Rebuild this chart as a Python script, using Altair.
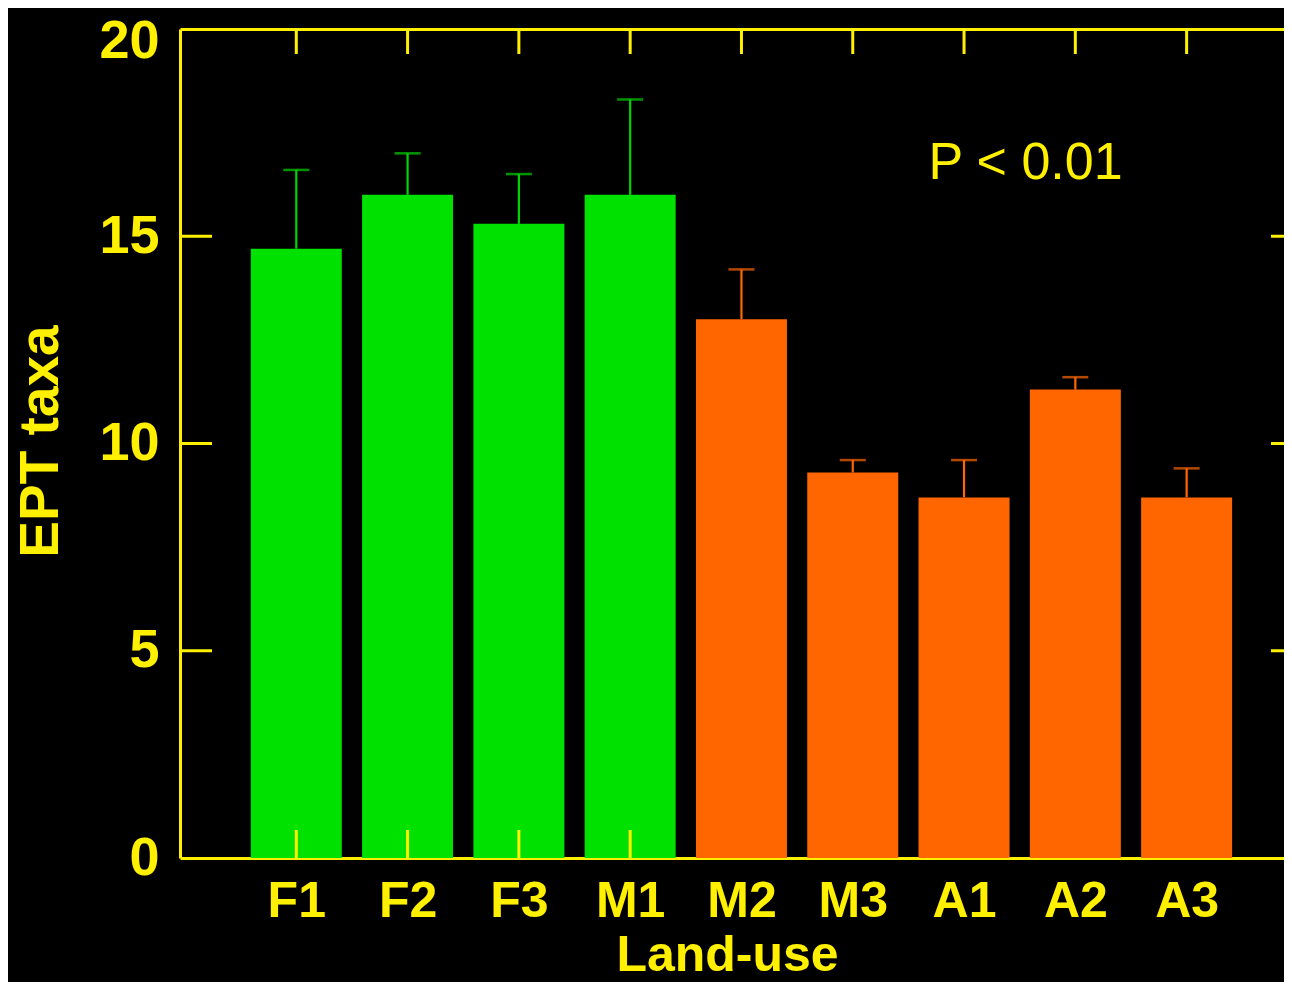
import altair as alt
import pandas as pd

# ---- data ----
categories = ["F1", "F2", "F3", "M1", "M2", "M3", "A1", "A2", "A3"]
groups = ["forest", "forest", "forest", "forest", "other", "other", "other", "other", "other"]
means = [14.7, 16.0, 15.3, 16.0, 13.0, 9.3, 8.7, 11.3, 8.7]
errors = [1.9, 1.0, 1.2, 2.3, 1.2, 0.3, 0.9, 0.3, 0.7]
y_ticks = [0, 5, 10, 15, 20]
inner_y_ticks = [5, 10, 15]
p_text = ["P < 0.01"]
p_pos_x = [6.68]
p_pos_y = [16.39]

YELLOW = "#FFF000"
GREEN = "#00E100"
GREEN_ERR = "#00D400"
ORANGE = "#FF6600"
FONT = "Liberation Sans"

W, H = 1104, 829

df = pd.DataFrame({
    "cat": categories,
    "pos": list(range(1, len(categories) + 1)),
    "group": groups,
    "mean": means,
    "err": errors,
})
df["upper"] = df["mean"] + df["err"]

pos_df = pd.DataFrame({"pos": list(range(1, len(categories) + 1))})
ytick_df = pd.DataFrame({"v": inner_y_ticks})
text_df = pd.DataFrame({"t": p_text, "x": p_pos_x, "y": p_pos_y})

label_expr = "[" + ",".join("'%s'" % c for c in categories) + "][datum.value - 1]"

xscale = alt.Scale(domain=[0, 9.83], nice=False, zero=False)
yscale = alt.Scale(domain=[0, 20], nice=False)

base = alt.Chart(df)

green_bars = base.transform_filter(alt.datum.group == "forest").mark_bar(
    size=91, color=GREEN
).encode(
    x=alt.X("pos:Q", scale=xscale,
            axis=alt.Axis(
                orient="bottom", values=list(range(1, 10)), labelExpr=label_expr,
                ticks=False, tickSize=0, grid=False,
                domain=True, domainColor=YELLOW, domainWidth=3,
                labelColor=YELLOW, labelFont=FONT, labelFontSize=50,
                labelFontWeight="bold", labelPadding=18,
                title="Land-use", titleColor=YELLOW, titleFont=FONT,
                titleFontSize=50, titleFontWeight="bold",
                titleX=547, titleY=112, titleAlign="center",
                titleBaseline="alphabetic")),
    y=alt.Y("mean:Q", scale=yscale,
            axis=alt.Axis(
                orient="left", values=y_ticks, ticks=False, tickSize=0, grid=False,
                domain=True, domainColor=YELLOW, domainWidth=3,
                labelColor=YELLOW, labelFont=FONT, labelFontSize=54,
                labelFontWeight="bold", labelPadding=21,
                labelOffset={"condition": {"test": "datum.value == 20", "value": 12},
                             "value": 0},
                title="EPT taxa", titleColor=YELLOW, titleFont=FONT,
                titleFontSize=55, titleFontWeight="bold",
                titleAngle=270, titleX=-123, titleY=412,
                titleAlign="center", titleBaseline="alphabetic")),
)

green_err = base.transform_filter(alt.datum.group == "forest").mark_rule(
    color=GREEN_ERR, strokeWidth=2.2
).encode(
    x=alt.X("pos:Q", scale=xscale,
            axis=alt.Axis(orient="top", labels=False, ticks=False, grid=False,
                          domain=True, domainColor=YELLOW, domainWidth=3, title=None)),
    y=alt.Y("mean:Q", scale=yscale, axis=None),
    y2="upper:Q",
)
green_cap = base.transform_filter(alt.datum.group == "forest").mark_tick(
    color=GREEN_ERR, orient="horizontal", size=26, thickness=2.5
).encode(
    x=alt.X("pos:Q", scale=xscale, axis=None),
    y=alt.Y("upper:Q", scale=yscale, axis=None),
)

bottom_ticks = alt.Chart(pos_df).mark_rule(color=YELLOW, strokeWidth=3).encode(
    x=alt.X("pos:Q", scale=xscale, axis=None),
    y=alt.value(H - 28), y2=alt.value(H),
)
top_ticks = alt.Chart(pos_df).mark_rule(color=YELLOW, strokeWidth=3).encode(
    x=alt.X("pos:Q", scale=xscale, axis=None),
    y=alt.value(0), y2=alt.value(25),
)
left_ticks = alt.Chart(ytick_df).mark_rule(color=YELLOW, strokeWidth=3).encode(
    y=alt.Y("v:Q", scale=yscale, axis=None),
    x=alt.value(0), x2=alt.value(32),
)
right_ticks = alt.Chart(ytick_df).mark_rule(color=YELLOW, strokeWidth=3).encode(
    y=alt.Y("v:Q", scale=yscale, axis=None),
    x=alt.value(W - 13), x2=alt.value(W),
)

orange_bars = base.transform_filter(alt.datum.group == "other").mark_bar(
    size=91, color=ORANGE
).encode(
    x=alt.X("pos:Q", scale=xscale, axis=None),
    y=alt.Y("mean:Q", scale=yscale, axis=None),
)
orange_err = base.transform_filter(alt.datum.group == "other").mark_rule(
    color=ORANGE, strokeWidth=2.2
).encode(
    x=alt.X("pos:Q", scale=xscale, axis=None),
    y=alt.Y("mean:Q", scale=yscale, axis=None),
    y2="upper:Q",
)
orange_cap = base.transform_filter(alt.datum.group == "other").mark_tick(
    color=ORANGE, orient="horizontal", size=26, thickness=2.5
).encode(
    x=alt.X("pos:Q", scale=xscale, axis=None),
    y=alt.Y("upper:Q", scale=yscale, axis=None),
)

ptext = alt.Chart(text_df).mark_text(
    color=YELLOW, font=FONT, fontSize=52, align="left", baseline="alphabetic"
).encode(
    x=alt.X("x:Q", scale=xscale, axis=None),
    y=alt.Y("y:Q", scale=yscale, axis=None),
    text="t:N",
)

chart = alt.layer(
    green_bars, green_err, green_cap, bottom_ticks, top_ticks, left_ticks,
    right_ticks, orange_bars, orange_err, orange_cap, ptext
).resolve_axis(x="independent", y="independent").properties(
    width=W, height=H,
    background="black",
    autosize=alt.AutoSizeParams(type="none"),
    padding={"left": 172, "top": 21, "right": 0, "bottom": 124},
).configure_view(stroke=None)

chart.save("out.html", embed_options={"renderer": "svg", "actions": False})
